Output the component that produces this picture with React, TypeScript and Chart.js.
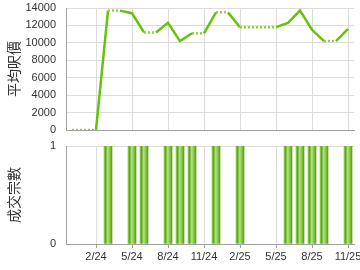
import React, { useEffect, useRef } from "react";
import { Chart, registerables } from "chart.js";

Chart.register(...registerables);

const months = ["12/23","1/24","2/24","3/24","4/24","5/24","6/24","7/24","8/24","9/24","10/24","11/24","12/24","1/25","2/25","3/25","4/25","5/25","6/25","7/25","8/25","9/25","10/25","11/25"];
const avgPrice = [0,0,0,13700,13700,13400,11200,11200,12300,10200,11100,11100,13500,13500,11800,11800,11800,11800,12300,13700,11500,10200,10200,11600];
const dealCount = [0,0,0,1,0,1,1,0,1,1,1,0,1,0,1,0,0,0,1,1,1,1,0,1];
const priceTicks = [0,2000,4000,6000,8000,10000,12000,14000];

const FONT = 'Arial, "Liberation Sans", sans-serif';
const CJK = '"Noto Sans CJK TC", "Noto Sans CJK SC", sans-serif';
const GRID = "#dcdcdc";
const AXIS = "#a0a0a0";
const TEXT = "#333333";

const isMajor = (i: number) => i % 3 === 2;

export default function App() {
  const topRef = useRef<HTMLCanvasElement | null>(null);
  const botRef = useRef<HTMLCanvasElement | null>(null);

  useEffect(() => {
    const noTx = dealCount.map((d) => d === 0);
    const top = new Chart(topRef.current as HTMLCanvasElement, {
      type: "line",
      data: {
        labels: months,
        datasets: [
          {
            data: avgPrice,
            borderColor: "#66c20a",
            borderWidth: 2.5,
            pointRadius: 0,
            tension: 0,
            segment: {
              borderColor: (c: any) => (noTx[c.p1DataIndex] ? "#92d13c" : undefined),
              borderDash: (c: any) => (noTx[c.p1DataIndex] ? [2, 2] : undefined),
            },
          },
        ],
      },
      options: {
        responsive: false,
        animation: false,
        layout: { autoPadding: false, padding: { left: 0, right: 6, top: 8, bottom: 10 } },
        plugins: { legend: { display: false }, tooltip: { enabled: false } },
        scales: {
          x: {
            type: "category",
            offset: true,
            afterFit: (s: any) => {
              s.height = 0;
              s.paddingLeft = 0;
              s.paddingRight = 0;
            },
            grid: {
              offset: false,
              drawTicks: false,
              color: (c: any) => (isMajor(c.index) ? GRID : "rgba(0,0,0,0)"),
            },
            border: { color: AXIS },
            ticks: { display: false },
          },
          y: {
            min: 0,
            max: 14000,
            afterBuildTicks: (s: any) => {
              s.ticks = priceTicks.map((v) => ({ value: v }));
            },
            afterFit: (s: any) => {
              s.width = 66;
              s.paddingTop = 0;
              s.paddingBottom = 0;
            },
            grid: { color: GRID, drawTicks: false },
            border: { color: AXIS },
            ticks: {
              color: TEXT,
              font: { family: FONT, size: 11 },
              padding: 10,
              callback: (v: any) => String(v),
            },
            title: {
              display: true,
              text: "平均呎價",
              color: TEXT,
              font: { family: CJK, size: 14 },
              padding: { top: 5, bottom: 0 },
            },
          },
        },
      },
    } as any);

    const bot = new Chart(botRef.current as HTMLCanvasElement, {
      type: "bar",
      data: {
        labels: months,
        datasets: [
          {
            data: dealCount.map((d) => (d === 0 ? null : d)),
            barThickness: 8,
            borderWidth: 0,
            backgroundColor: (c: any) => {
              const ch = c.chart;
              const xs = ch.scales && ch.scales.x;
              if (!xs || c.dataIndex === undefined) return "#8cc84a";
              const x = xs.getPixelForValue(c.dataIndex);
              if (!Number.isFinite(x)) return "#8cc84a";
              const g = ch.ctx.createLinearGradient(x - 4, 0, x + 4, 0);
              g.addColorStop(0, "#8ecb4f");
              g.addColorStop(0.2, "#5ca61a");
              g.addColorStop(0.45, "#b4e184");
              g.addColorStop(0.7, "#8acb46");
              g.addColorStop(1, "#559e12");
              return g;
            },
          },
        ],
      },
      options: {
        responsive: false,
        animation: false,
        layout: { autoPadding: false, padding: { left: 0, right: 6, top: 8, bottom: 0 } },
        plugins: { legend: { display: false }, tooltip: { enabled: false } },
        scales: {
          x: {
            type: "category",
            offset: true,
            afterFit: (s: any) => {
              s.height = 26;
              s.paddingLeft = 0;
              s.paddingRight = 0;
            },
            grid: {
              offset: false,
              tickLength: 4,
              color: (c: any) => (isMajor(c.index) ? GRID : "rgba(0,0,0,0)"),
              tickColor: (c: any) => (isMajor(c.index) ? AXIS : "rgba(0,0,0,0)"),
            },
            border: { color: AXIS },
            ticks: {
              autoSkip: false,
              maxRotation: 0,
              padding: 2,
              color: TEXT,
              font: { family: FONT, size: 11 },
              callback: (_v: any, i: number) => (isMajor(i) ? months[i] : ""),
            },
          },
          y: {
            min: 0,
            max: 1,
            ticks: { stepSize: 1, color: TEXT, font: { family: FONT, size: 11 }, padding: 10 },
            afterFit: (s: any) => {
              s.width = 66;
              s.paddingTop = 0;
              s.paddingBottom = 0;
            },
            grid: { color: GRID, drawTicks: false },
            border: { color: AXIS },
            title: {
              display: true,
              text: "成交宗數",
              color: TEXT,
              font: { family: CJK, size: 14 },
              padding: { top: 5, bottom: 0 },
            },
          },
        },
      },
    } as any);

    return () => {
      top.destroy();
      bot.destroy();
    };
  }, []);

  return (
    <div style={{ position: "absolute", left: 0, top: 0, width: 360, height: 270, background: "#fff" }}>
      <canvas ref={topRef} width={360} height={140} style={{ position: "absolute", left: 0, top: 0 }} />
      <canvas ref={botRef} width={360} height={132} style={{ position: "absolute", left: 0, top: 138 }} />
    </div>
  );
}
